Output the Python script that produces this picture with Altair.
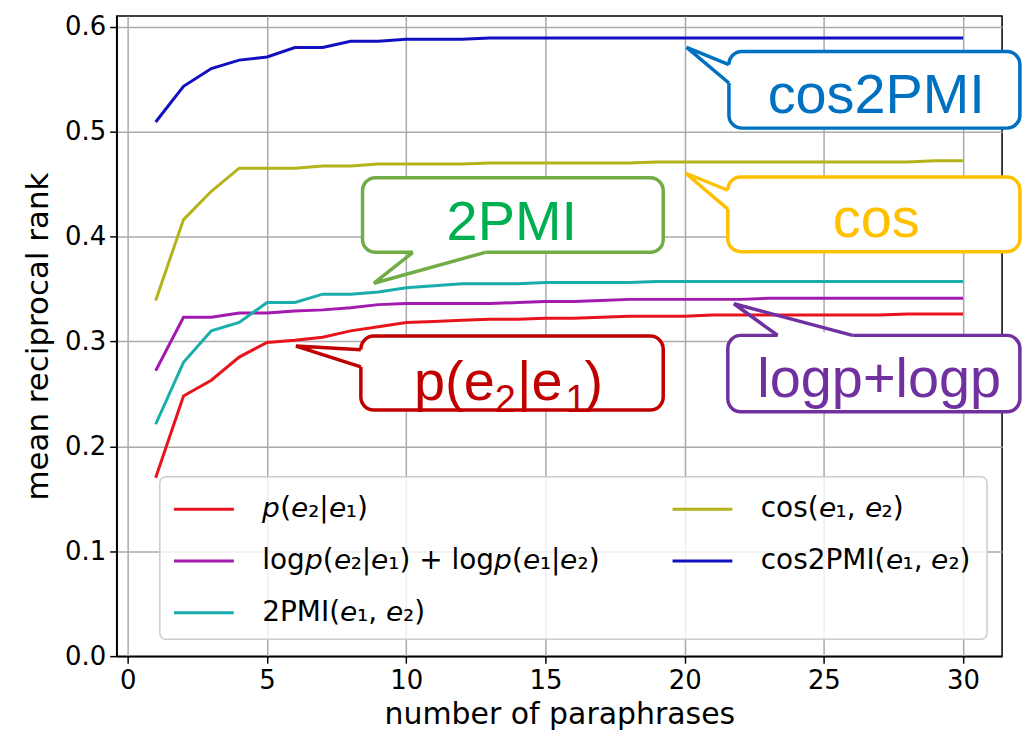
import altair as alt
import pandas as pd

# ---------------- data ----------------
x_vals = list(range(1, 31))

p_e2_e1 = [0.170, 0.248, 0.263, 0.285, 0.299, 0.301, 0.304, 0.310, 0.314, 0.318,
           0.319, 0.320, 0.321, 0.321, 0.322, 0.322, 0.323, 0.324, 0.324, 0.324,
           0.325, 0.325, 0.325, 0.325, 0.325, 0.325, 0.325, 0.326, 0.326, 0.326]
logp_logp = [0.272, 0.323, 0.323, 0.327, 0.327, 0.329, 0.330, 0.332, 0.335, 0.336,
             0.336, 0.336, 0.336, 0.337, 0.338, 0.338, 0.339, 0.340, 0.340, 0.340,
             0.340, 0.340, 0.341, 0.341, 0.341, 0.341, 0.341, 0.341, 0.341, 0.341]
pmi2 = [0.221, 0.280, 0.310, 0.318, 0.337, 0.337, 0.345, 0.345, 0.347, 0.351,
        0.353, 0.355, 0.355, 0.355, 0.356, 0.356, 0.356, 0.356, 0.357, 0.357,
        0.357, 0.357, 0.357, 0.357, 0.357, 0.357, 0.357, 0.357, 0.357, 0.357]
cos_vals = [0.339, 0.416, 0.443, 0.465, 0.465, 0.465, 0.467, 0.467, 0.469, 0.469,
            0.469, 0.469, 0.470, 0.470, 0.470, 0.470, 0.470, 0.470, 0.471, 0.471,
            0.471, 0.471, 0.471, 0.471, 0.471, 0.471, 0.471, 0.471, 0.472, 0.472]
cos2pmi = [0.509, 0.543, 0.560, 0.568, 0.571, 0.580, 0.580, 0.586, 0.586, 0.588,
           0.588, 0.588, 0.589, 0.589, 0.589, 0.589, 0.589, 0.589, 0.589, 0.589,
           0.589, 0.589, 0.589, 0.589, 0.589, 0.589, 0.589, 0.589, 0.589, 0.589]

it_p = "\U0001D631"   # sans-serif italic p
it_e = "\U0001D626"   # sans-serif italic e
labels = [
    f"{it_p}({it_e}₂|{it_e}₁)",
    f"log{it_p}({it_e}₂|{it_e}₁) + log{it_p}({it_e}₁|{it_e}₂)",
    f"2PMI({it_e}₁, {it_e}₂)",
    f"cos({it_e}₁, {it_e}₂)",
    f"cos2PMI({it_e}₁, {it_e}₂)",
]
series = [p_e2_e1, logp_logp, pmi2, cos_vals, cos2pmi]
colors = ["#e8141c", "#a31aaf", "#1aadad", "#b3b31a", "#1010c0"]

x_ticks = [0, 5, 10, 15, 20, 25, 30]
y_ticks = [0.0, 0.1, 0.2, 0.3, 0.4, 0.5, 0.6]

# callout annotations (data coordinates)
call_names = ["cos2PMI", "cos", "2PMI", "p(e₂|e₁)", "logp+logp"]
call_border = ["#0070C0", "#FFC000", "#70AD47", "#C00000", "#7030A0"]
call_x1 = [21.59, 21.55, 8.43, 8.37, 21.55]
call_x2 = [32.04, 32.04, 19.23, 19.23, 32.04]
call_y1 = [0.5763, 0.4567, 0.4560, 0.3050, 0.3057]
call_y2 = [0.5032, 0.3855, 0.3848, 0.2345, 0.2329]
# tail: base point B, tip, base point C
tail_bx = [21.59, 21.55, 10.24, 8.37, 23.34]
tail_by = [0.5637, 0.4440, 0.3848, 0.2921, 0.3057]
tail_tipx = [20.07, 20.04, 8.84, 6.04, 21.77]
tail_tipy = [0.5801, 0.4602, 0.3554, 0.2955, 0.3358]
tail_cx = [21.59, 21.55, 12.84, 8.37, 26.03]
tail_cy = [0.5462, 0.4260, 0.3848, 0.2756, 0.3057]

# callout text pieces (left-aligned runs; small size = subscript)
txt_text = ["cos2PMI", "cos", "2PMI", "p(e", "2", "|e", "1", ")", "logp+logp"]
txt_color = ["#0070C0", "#FFC000", "#00B050", "#C00000", "#C00000", "#C00000",
             "#C00000", "#C00000", "#7030A0"]
txt_x = [22.98, 25.32, 11.45, 10.28, 13.18, 13.98, 15.72, 16.40, 22.61]
txt_y = [0.5177, 0.3990, 0.3968, 0.2440, 0.2330, 0.2440, 0.2330, 0.2440, 0.2466]
txt_size = [56, 56, 56, 56, 38, 56, 38, 56, 56]

# legend frame (data coordinates)
legend_box = dict(x1=1.15, x2=30.86, y1=0.1709, y2=0.0161)

# ---------------- tables ----------------
rows = []
for lab, vals in zip(labels, series):
    for xv, yv in zip(x_vals, vals):
        rows.append({"x": xv, "y": yv, "method": lab})
df = pd.DataFrame(rows)

cdf = pd.DataFrame({
    "name": call_names, "border": call_border,
    "x1": call_x1, "x2": call_x2, "y1": call_y1, "y2": call_y2,
    "bx": tail_bx, "by": tail_by, "cx": tail_cx, "cy": tail_cy,
})
trows = []
for i, n in enumerate(call_names):
    trows.append({"name": n, "o": 0, "x": tail_bx[i], "y": tail_by[i], "border": call_border[i]})
    trows.append({"name": n, "o": 1, "x": tail_tipx[i], "y": tail_tipy[i], "border": call_border[i]})
    trows.append({"name": n, "o": 2, "x": tail_cx[i], "y": tail_cy[i], "border": call_border[i]})
tdf = pd.DataFrame(trows)
txdf = pd.DataFrame({"t": txt_text, "col": txt_color, "x": txt_x, "y": txt_y, "s": txt_size})
ldf = pd.DataFrame([legend_box])

xscale = alt.Scale(domain=[-0.4, 31.4], nice=False, zero=False)
yscale = alt.Scale(domain=[0, 0.61], nice=False, zero=False)

lines = alt.Chart(df).mark_line(strokeWidth=3).encode(
    x=alt.X("x:Q", scale=xscale,
            axis=alt.Axis(values=x_ticks, title="number of paraphrases", format="d",
                          titleFontSize=30, titlePadding=7)),
    y=alt.Y("y:Q", scale=yscale,
            axis=alt.Axis(values=y_ticks, title="mean reciprocal rank", format=".1f",
                          titleFontSize=31, titlePadding=10)),
    color=alt.Color("method:N",
                    scale=alt.Scale(domain=labels, range=colors),
                    sort=labels,
                    legend=alt.Legend(
                        title=None, orient="none", legendX=56, legendY=463,
                        columns=2, columnPadding=66, rowPadding=6,
                        symbolType="stroke", symbolSize=3600, symbolStrokeWidth=3,
                        labelFontSize=28, labelFont="DejaVu Sans", labelColor="black",
                        labelLimit=800, labelOffset=27, padding=0)),
)

frame = alt.Chart(ldf).mark_rect(
    cornerRadius=6, fill="white", fillOpacity=0.8, stroke="#cccccc", strokeWidth=1.5
).encode(
    x=alt.X("x1:Q", scale=xscale), x2="x2:Q",
    y=alt.Y("y1:Q", scale=yscale), y2="y2:Q",
)

boxes = alt.Chart(cdf).mark_rect(cornerRadius=13, fill="white", strokeWidth=3.5).encode(
    x=alt.X("x1:Q", scale=xscale), x2="x2:Q",
    y=alt.Y("y1:Q", scale=yscale), y2="y2:Q",
    stroke=alt.Stroke("border:N", scale=None),
)

gaps = alt.Chart(cdf).mark_rule(color="white", strokeWidth=6).encode(
    x=alt.X("bx:Q", scale=xscale), x2="cx:Q",
    y=alt.Y("by:Q", scale=yscale), y2="cy:Q",
)

tails = alt.Chart(tdf).mark_line(strokeWidth=3.5, strokeJoin="miter").encode(
    x=alt.X("x:Q", scale=xscale),
    y=alt.Y("y:Q", scale=yscale),
    detail="name:N",
    order="o:Q",
    stroke=alt.Stroke("border:N", scale=None),
)

texts = alt.Chart(txdf).mark_text(
    font="Liberation Sans", baseline="alphabetic", align="left"
).encode(
    x=alt.X("x:Q", scale=xscale),
    y=alt.Y("y:Q", scale=yscale),
    text="t:N",
    size=alt.Size("s:Q", scale=None),
    color=alt.Color("col:N", scale=None),
)

chart = alt.layer(lines, frame, boxes, gaps, tails, texts).properties(
    width=888, height=642,
    autosize=alt.AutoSizeParams(type="none"),
    padding={"left": 109, "top": 7, "right": 21, "bottom": 78},
).configure_view(
    stroke="black", strokeWidth=1.5
).configure_axis(
    labelFont="DejaVu Sans", titleFont="DejaVu Sans", titleFontWeight="normal",
    labelFontSize=26, titleFontSize=30, labelColor="black", titleColor="black",
    tickColor="black", tickSize=7, tickWidth=1.5,
    domainColor="black", domainWidth=1.5,
    gridColor="#aaaaaa", gridWidth=1.5, labelPadding=4,
)

chart.save("out.html", embed_options={"renderer": "svg", "actions": False})
